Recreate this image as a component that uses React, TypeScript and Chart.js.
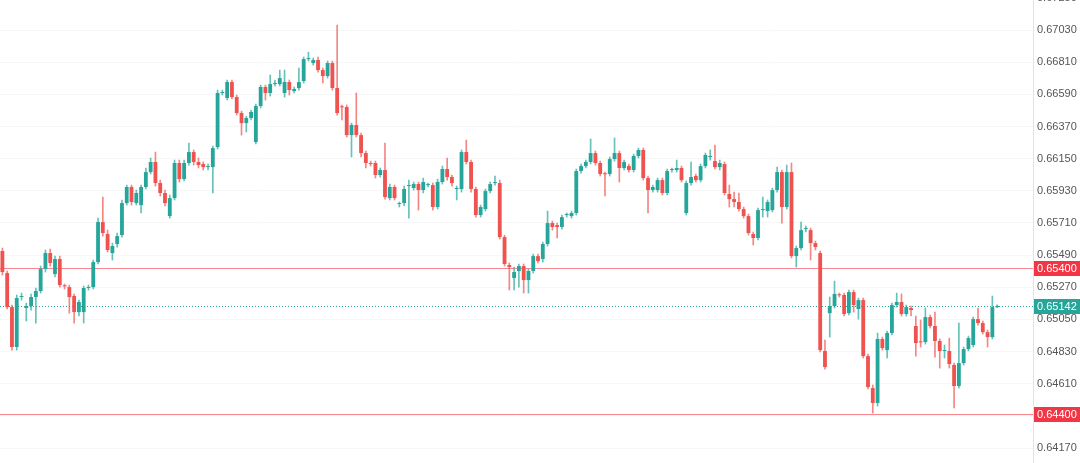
import React, { useEffect, useRef } from "react";
import { Chart, registerables } from "chart.js";

Chart.register(...registerables);

// OHLC values (oldest -> newest)
const opens = [
  0.65518, 0.65367, 0.65134, 0.64861, 0.65203, 0.65128, 0.65141, 0.65203, 0.65244, 0.65395,
  0.65504, 0.6536, 0.65463, 0.65278, 0.65271, 0.6521, 0.651, 0.651, 0.65265, 0.65271,
  0.65442, 0.65716, 0.65634, 0.65504, 0.65566, 0.65627, 0.65846, 0.65956, 0.65846, 0.65832,
  0.65956, 0.66058, 0.66127, 0.65983, 0.65915, 0.65757, 0.6588, 0.6612, 0.6601, 0.6612,
  0.66195, 0.66127, 0.66113, 0.66092, 0.66092, 0.66229, 0.66599, 0.66565, 0.66674, 0.66571,
  0.66462, 0.66393, 0.66428, 0.66263, 0.6651, 0.6664, 0.66599, 0.6666, 0.6666, 0.66599,
  0.66674, 0.66612, 0.66633, 0.66681, 0.66831, 0.66804, 0.66825, 0.66756, 0.66715, 0.66804,
  0.66633, 0.66503, 0.66503, 0.66311, 0.6638, 0.66311, 0.66188, 0.6612, 0.6612, 0.66038,
  0.66072, 0.6588, 0.65956, 0.65839, 0.65846, 0.65962, 0.65949, 0.65976, 0.65935, 0.65969,
  0.65969, 0.65819, 0.6599, 0.66079, 0.66024, 0.65942, 0.65942, 0.66195, 0.66127, 0.65942,
  0.65764, 0.65805, 0.65928, 0.65983, 0.65983, 0.65613, 0.65422, 0.65333, 0.65381, 0.65415,
  0.65319, 0.65381, 0.65483, 0.65463, 0.65566, 0.65709, 0.65695, 0.65682, 0.65764, 0.65757,
  0.65778, 0.66065, 0.66099, 0.66127, 0.66188, 0.6612, 0.66045, 0.66045, 0.66147, 0.66188,
  0.66086, 0.66099, 0.66072, 0.66168, 0.66209, 0.66017, 0.65935, 0.65935, 0.66003, 0.65915,
  0.66072, 0.66072, 0.66086, 0.65778, 0.65983, 0.66031, 0.66003, 0.66099, 0.66161, 0.66133,
  0.66092, 0.66113, 0.65908, 0.65873, 0.65853, 0.65805, 0.65757, 0.65634, 0.65607, 0.65798,
  0.65791, 0.65798, 0.65935, 0.66058, 0.65819, 0.66058, 0.65483, 0.65538, 0.65668, 0.65661,
  0.65572, 0.65504, 0.64834, 0.65093, 0.65141, 0.65217, 0.65217, 0.65093, 0.65237, 0.65121,
  0.65182, 0.64799, 0.6458, 0.64478, 0.64916, 0.6484, 0.64957, 0.65148, 0.65169, 0.65087,
  0.65128, 0.65005, 0.64895, 0.64895, 0.65066, 0.65005, 0.64902, 0.64834, 0.64834, 0.64738,
  0.64594, 0.64751, 0.64847, 0.64875, 0.65052, 0.65025, 0.64963, 0.64929, 0.65134,
];

const closes = [
  0.65374, 0.65134, 0.64861, 0.65196, 0.6521, 0.65141, 0.65203, 0.65244, 0.65395, 0.65504,
  0.65436, 0.65463, 0.65285, 0.65276, 0.65203, 0.651, 0.65169, 0.65265, 0.65271, 0.65442,
  0.65716, 0.65641, 0.65525, 0.65552, 0.6562, 0.65846, 0.65956, 0.65853, 0.65915, 0.65956,
  0.66058, 0.66127, 0.65983, 0.65915, 0.65846, 0.6588, 0.6612, 0.6601, 0.6612, 0.66195,
  0.66127, 0.66106, 0.66092, 0.66099, 0.66222, 0.66599, 0.66606, 0.66674, 0.66571, 0.66462,
  0.66393, 0.66428, 0.66469, 0.6651, 0.6664, 0.66599, 0.6666, 0.66667, 0.66701, 0.66674,
  0.66619, 0.66626, 0.66674, 0.66831, 0.66838, 0.66825, 0.66756, 0.66715, 0.66804, 0.66633,
  0.66462, 0.66501, 0.66311, 0.6638, 0.66311, 0.66188, 0.6612, 0.66113, 0.66038, 0.66072,
  0.65887, 0.65956, 0.6588, 0.65841, 0.65942, 0.65969, 0.65976, 0.65935, 0.6599, 0.65971,
  0.65819, 0.6599, 0.66079, 0.66024, 0.65983, 0.65944, 0.66195, 0.66127, 0.65942, 0.65764,
  0.65819, 0.65928, 0.65976, 0.65985, 0.65613, 0.65429, 0.65408, 0.65374, 0.65415, 0.65319,
  0.65381, 0.65483, 0.65449, 0.65566, 0.65709, 0.65682, 0.65682, 0.6575, 0.65766, 0.65778,
  0.66065, 0.66099, 0.66127, 0.66188, 0.6612, 0.66045, 0.66043, 0.66147, 0.66188, 0.66086,
  0.66127, 0.66072, 0.66168, 0.66209, 0.66017, 0.65935, 0.65956, 0.66003, 0.65915, 0.66065,
  0.66074, 0.66086, 0.66003, 0.65983, 0.66024, 0.66003, 0.66099, 0.66175, 0.66168, 0.66092,
  0.6612, 0.65915, 0.65873, 0.65853, 0.65805, 0.65757, 0.65641, 0.65607, 0.65798, 0.658,
  0.65853, 0.65935, 0.66058, 0.65819, 0.66058, 0.65483, 0.65538, 0.65661, 0.6567, 0.65572,
  0.65545, 0.6484, 0.64724, 0.65141, 0.65224, 0.65215, 0.65087, 0.65237, 0.65148, 0.65182,
  0.64799, 0.64587, 0.64478, 0.64916, 0.64854, 0.64957, 0.65148, 0.65169, 0.65087, 0.65134,
  0.65114, 0.64888, 0.64893, 0.65066, 0.65005, 0.64902, 0.64834, 0.64836, 0.64745, 0.64594,
  0.64751, 0.64847, 0.64922, 0.65052, 0.65025, 0.64963, 0.64929, 0.65134, 0.65142,
];

const highs = [
  0.65538, 0.65381, 0.65148, 0.65217, 0.6523, 0.65162, 0.65224, 0.65265, 0.65415, 0.65525,
  0.65531, 0.65483, 0.65483, 0.65292, 0.65285, 0.65224, 0.65182, 0.65278, 0.65285, 0.65456,
  0.65743, 0.65887, 0.65661, 0.65572, 0.65641, 0.65867, 0.65969, 0.65969, 0.65935, 0.65969,
  0.66086, 0.66154, 0.66195, 0.66003, 0.65935, 0.65901, 0.6614, 0.6614, 0.6614, 0.66257,
  0.66209, 0.66154, 0.66127, 0.66113, 0.66236, 0.66619, 0.66619, 0.66688, 0.66688, 0.66585,
  0.66475, 0.66441, 0.66482, 0.66523, 0.66653, 0.66653, 0.66722, 0.66688, 0.66756, 0.66756,
  0.66688, 0.6664, 0.6677, 0.66845, 0.66879, 0.66838, 0.66845, 0.6677, 0.66818, 0.66818,
  0.67064, 0.66517, 0.66517, 0.66393, 0.66599, 0.66325, 0.66202, 0.66133, 0.66133, 0.66086,
  0.66257, 0.65976, 0.65969, 0.65853, 0.65962, 0.66003, 0.6599, 0.6599, 0.66017, 0.65983,
  0.65983, 0.6601, 0.66099, 0.66154, 0.66038, 0.65962, 0.66209, 0.66277, 0.6614, 0.65956,
  0.65832, 0.65942, 0.6599, 0.66031, 0.66003, 0.65627, 0.65436, 0.65408, 0.65429, 0.65429,
  0.65395, 0.65497, 0.65497, 0.65579, 0.65791, 0.65723, 0.65709, 0.65764, 0.65778, 0.65791,
  0.66079, 0.66113, 0.6614, 0.66284, 0.66202, 0.66133, 0.66058, 0.66161, 0.66291, 0.66202,
  0.6614, 0.66113, 0.66181, 0.66222, 0.66222, 0.66031, 0.65969, 0.66017, 0.66017, 0.66079,
  0.66086, 0.6614, 0.66099, 0.65997, 0.66127, 0.66045, 0.66113, 0.66188, 0.66209, 0.66243,
  0.6614, 0.66127, 0.65969, 0.65921, 0.65915, 0.65819, 0.65771, 0.65648, 0.65812, 0.65887,
  0.65867, 0.65949, 0.66092, 0.66072, 0.66106, 0.6612, 0.65552, 0.65716, 0.65689, 0.65675,
  0.65586, 0.65518, 0.64909, 0.65203, 0.65312, 0.6523, 0.6523, 0.65251, 0.65251, 0.65196,
  0.65196, 0.64813, 0.64601, 0.64957, 0.64929, 0.6497, 0.65162, 0.6523, 0.65224, 0.65148,
  0.65141, 0.65073, 0.65046, 0.65128, 0.6508, 0.651, 0.64916, 0.64875, 0.64922, 0.64751,
  0.65025, 0.64861, 0.64936, 0.65066, 0.65128, 0.65039, 0.64977, 0.6521, 0.6515,
];

const lows = [
  0.65353, 0.65121, 0.6484, 0.6484, 0.65182, 0.65039, 0.65114, 0.65025, 0.6523, 0.65374,
  0.65415, 0.6534, 0.65271, 0.65258, 0.65093, 0.65025, 0.65073, 0.65025, 0.65251, 0.65258,
  0.65429, 0.6562, 0.65511, 0.65456, 0.65545, 0.65613, 0.65832, 0.65832, 0.65832, 0.65778,
  0.65942, 0.66045, 0.65962, 0.65894, 0.65826, 0.65743, 0.65867, 0.6599, 0.65997, 0.66106,
  0.66106, 0.66086, 0.66072, 0.66072, 0.65915, 0.66216, 0.66585, 0.66551, 0.66558, 0.66448,
  0.66311, 0.66332, 0.66414, 0.6625, 0.66496, 0.66551, 0.66578, 0.66647, 0.66647, 0.66571,
  0.66585, 0.66599, 0.66619, 0.66667, 0.66818, 0.6679, 0.66742, 0.66667, 0.66701, 0.66619,
  0.66448, 0.66414, 0.66298, 0.66161, 0.66298, 0.66161, 0.66086, 0.66099, 0.66017, 0.66024,
  0.65873, 0.65867, 0.65867, 0.65819, 0.65826, 0.65743, 0.65935, 0.65798, 0.65915, 0.65956,
  0.65798, 0.65805, 0.65976, 0.66003, 0.65962, 0.65867, 0.65921, 0.66113, 0.65921, 0.6575,
  0.6575, 0.65791, 0.65915, 0.65969, 0.656, 0.65415, 0.65251, 0.65251, 0.65271, 0.6523,
  0.6523, 0.65367, 0.65436, 0.65442, 0.65552, 0.65661, 0.65607, 0.65668, 0.6575, 0.65743,
  0.65764, 0.66051, 0.66086, 0.66113, 0.66106, 0.66031, 0.65894, 0.66031, 0.66133, 0.6599,
  0.66072, 0.66058, 0.66058, 0.66154, 0.66003, 0.65778, 0.65921, 0.65921, 0.65901, 0.65901,
  0.66058, 0.66058, 0.6599, 0.65764, 0.65969, 0.6599, 0.6599, 0.66086, 0.6614, 0.66079,
  0.66072, 0.65901, 0.65819, 0.65819, 0.65791, 0.65743, 0.65627, 0.65559, 0.65593, 0.6575,
  0.6575, 0.65785, 0.65921, 0.65709, 0.65805, 0.6547, 0.65408, 0.65525, 0.65648, 0.65456,
  0.65525, 0.64827, 0.6471, 0.64929, 0.65128, 0.65203, 0.65073, 0.6508, 0.651, 0.65052,
  0.64786, 0.64574, 0.64409, 0.64457, 0.6484, 0.64786, 0.64943, 0.65134, 0.65073, 0.65073,
  0.65073, 0.64799, 0.64861, 0.64881, 0.64991, 0.64792, 0.64717, 0.64786, 0.64717, 0.64444,
  0.6458, 0.64738, 0.64834, 0.64861, 0.65011, 0.6495, 0.64861, 0.64916, 0.6513,
];

// candle slots: 209 candles plus empty slots to the right edge
const slotCount = 216;
const categories = Array.from({ length: slotCount }, (_, i) => `#${i + 1}`);

const yTickValues = [
  0.6417, 0.6439, 0.6461, 0.6483, 0.6505, 0.6527, 0.6549, 0.6571, 0.6593, 0.6615,
  0.6637, 0.6659, 0.6681, 0.6703, 0.6725,
];
const levelLines = [0.654, 0.644];
const lastPrice = 0.65142;
const yMin = 0.640675;
const yMax = 0.672353;

const UP = "#26a69a";
const DOWN = "#ef5350";
const UP_WICK = "rgba(38,166,154,0.7)";
const DOWN_WICK = "rgba(239,83,80,0.7)";
const LEVEL = "#f23645";

export default function App() {
  const ref = useRef<HTMLCanvasElement>(null);

  useEffect(() => {
    document.body.style.margin = "0";
    const canvas = ref.current;
    if (!canvas) return;

    const isUp = opens.map((o, i) => closes[i] >= o);
    const colors = isUp.map((u) => (u ? UP : DOWN));
    const wickColors = isUp.map((u) => (u ? UP_WICK : DOWN_WICK));

    const overlay = {
      id: "overlay",
      beforeDatasetsDraw(chart: any) {
        const { ctx, chartArea, scales } = chart;
        const y = scales.y;
        ctx.save();
        ctx.lineWidth = 1;
        ctx.strokeStyle = "rgba(242,54,69,0.6)";
        levelLines.forEach((v) => {
          const py = Math.round(y.getPixelForValue(v)) + 0.5;
          ctx.beginPath();
          ctx.moveTo(chartArea.left, py);
          ctx.lineTo(chartArea.right, py);
          ctx.stroke();
        });
        const lp = Math.round(y.getPixelForValue(lastPrice)) + 0.5;
        ctx.strokeStyle = UP;
        ctx.setLineDash([1, 2]);
        ctx.beginPath();
        ctx.moveTo(chartArea.left, lp);
        ctx.lineTo(chartArea.right, lp);
        ctx.stroke();
        ctx.restore();
      },
      afterDraw(chart: any) {
        const { ctx, chartArea, scales, width } = chart;
        const y = scales.y;
        ctx.save();
        ctx.font = "11px 'Liberation Sans', Arial, sans-serif";
        ctx.textBaseline = "middle";
        ctx.textAlign = "left";
        const boxes: [number, string][] = [
          [levelLines[0], LEVEL],
          [levelLines[1], LEVEL],
          [lastPrice, UP],
        ];
        boxes.forEach(([v, c]) => {
          const py = Math.round(y.getPixelForValue(v));
          ctx.fillStyle = c;
          ctx.fillRect(chartArea.right + 1, py - 7, width - chartArea.right - 1, 15);
          ctx.fillStyle = "#ffffff";
          ctx.fillText(v.toFixed(5), chartArea.right + 4, py + 0.5);
        });
        ctx.restore();
      },
    };

    const chart = new Chart(canvas, {
      type: "bar",
      data: {
        labels: categories,
        datasets: [
          {
            label: "body",
            data: opens.map((o, i) => [o, closes[i]]) as any,
            backgroundColor: colors,
            borderWidth: 0,
            grouped: false,
            categoryPercentage: 1,
            barPercentage: 0.8,
            minBarLength: 1,
          } as any,
          {
            label: "wick",
            data: lows.map((l, i) => [l, highs[i]]) as any,
            backgroundColor: wickColors,
            borderWidth: 0,
            grouped: false,
            barThickness: 1,
          } as any,
        ],
      },
      options: {
        animation: false,
        responsive: false,
        maintainAspectRatio: false,
        layout: { padding: 0 },
        plugins: {
          legend: { display: false },
          tooltip: { enabled: false },
        },
        scales: {
          x: {
            type: "category",
            display: false,
            offset: true,
            grid: { display: false },
          },
          y: {
            type: "linear",
            position: "right",
            min: yMin,
            max: yMax,
            afterBuildTicks: (axis: any) => {
              axis.ticks = yTickValues.map((v) => ({ value: v }));
            },
            afterFit: (axis: any) => {
              axis.width = 47;
              axis.paddingTop = 0;
              axis.paddingBottom = 0;
            },
            ticks: {
              autoSkip: false,
              padding: 4,
              color: "#555555",
              font: { family: "'Liberation Sans', Arial, sans-serif", size: 11 },
              callback: (v: any) => Number(v).toFixed(5),
            },
            grid: { color: "#f7f7f7", drawTicks: false },
            border: { display: true, color: "#e0e3eb" },
          },
        },
      } as any,
      plugins: [overlay],
    });

    return () => chart.destroy();
  }, []);

  return (
    <div style={{ position: "fixed", left: 0, top: 0, width: 1080, height: 463, background: "#fff" }}>
      <canvas ref={ref} width={1080} height={463} style={{ display: "block" }} />
    </div>
  );
}
